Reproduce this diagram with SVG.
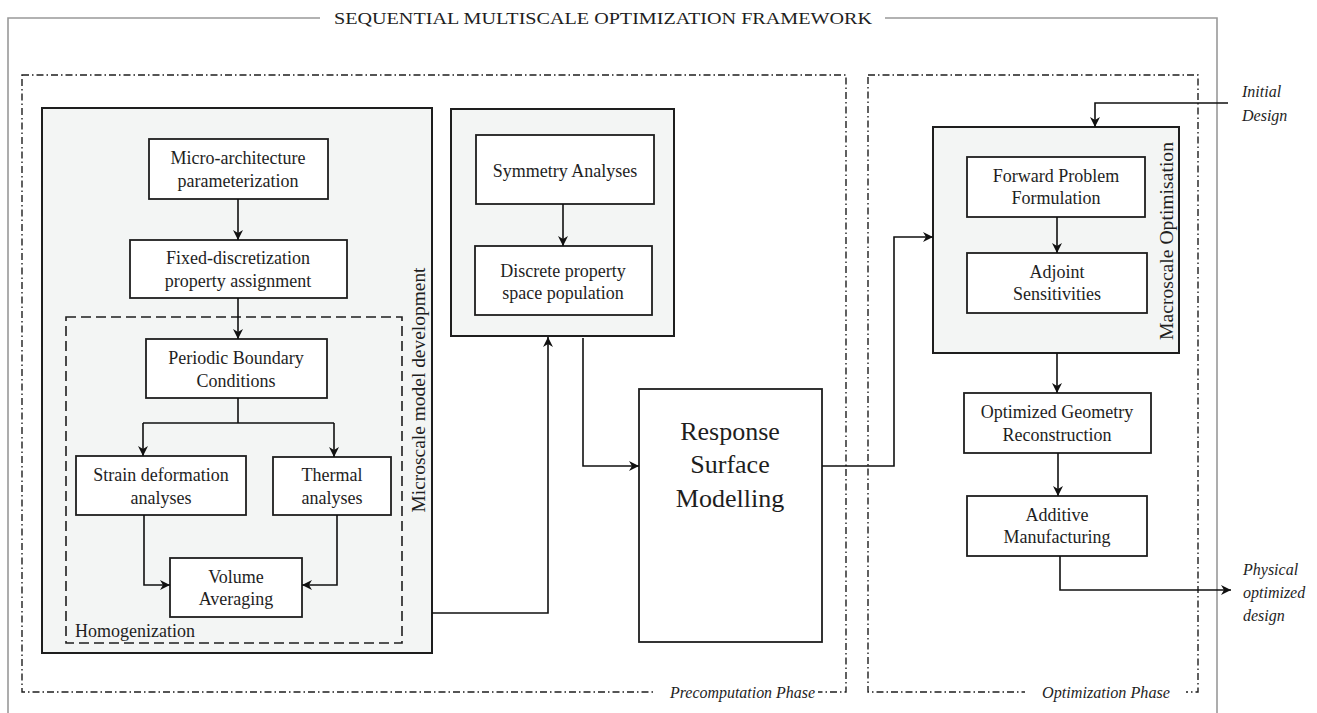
<svg xmlns="http://www.w3.org/2000/svg" width="1317" height="713" viewBox="0 0 1317 713">
<style>
text{font-family:"Liberation Serif","Times New Roman",serif;fill:#1e1e1e}
.t{font-size:18px;text-anchor:middle}
.it{font-style:italic;font-size:16px}
.box{fill:#fff;stroke:#1e1e1e;stroke-width:1.8}
.grp{fill:#f3f5f4;stroke:#1e1e1e;stroke-width:2}
.phase{fill:none;stroke:#1e1e1e;stroke-width:1.4;stroke-dasharray:7 3 1.5 3}
.frame{fill:none;stroke:#999;stroke-width:1.6}
.edge{fill:none;stroke:#111;stroke-width:1.6}
</style>
<defs>
<marker id="ah" viewBox="0 0 10 10" refX="10" refY="5" markerWidth="10" markerHeight="10" markerUnits="userSpaceOnUse" orient="auto">
<path d="M0,0 L10,5 L0,10 L3,5 z" fill="#111"/>
</marker>
</defs>
<rect width="1317" height="713" fill="#fff"/>

<g id="frame">
<path class="frame" d="M320 18 H8 V713 M885 18 H1217 V713"/>
<text x="603" y="24" style="font-size:17px;text-anchor:middle" textLength="538" lengthAdjust="spacingAndGlyphs">SEQUENTIAL MULTISCALE OPTIMIZATION FRAMEWORK</text>
</g>

<g id="precomputation-phase">
<rect class="phase" x="22" y="75" width="824" height="617"/>
<rect x="656" y="682" width="162" height="20" fill="#fff"/>
<text class="it" x="670" y="698" textLength="145" lengthAdjust="spacingAndGlyphs">Precomputation Phase</text>
</g>

<g id="optimization-phase">
<rect class="phase" x="868" y="75" width="330" height="617"/>
<rect x="1025" y="682" width="161" height="20" fill="#fff"/>
<text class="it" x="1042" y="698" textLength="128" lengthAdjust="spacingAndGlyphs">Optimization Phase</text>
</g>

<g id="microscale">
<rect class="grp" x="42" y="108" width="390" height="545"/>
<text x="0" y="0" transform="translate(425,390) rotate(-90)" class="t" textLength="245" lengthAdjust="spacingAndGlyphs">Microscale model development</text>
</g>

<g id="homogenization">
<rect x="66" y="317" width="336" height="326" fill="none" stroke="#1e1e1e" stroke-width="1.6" stroke-dasharray="10 5"/>
<text x="75" y="637" style="font-size:18px">Homogenization</text>
</g>

<g id="micro-architecture">
<rect class="box" x="149" y="139" width="179" height="60"/>
<text class="t" x="238" y="164">Micro-architecture</text>
<text class="t" x="238" y="187">parameterization</text>
</g>

<g id="fixed-discretization">
<rect class="box" x="130" y="240" width="217" height="58"/>
<text class="t" x="238" y="264">Fixed-discretization</text>
<text class="t" x="238" y="287">property assignment</text>
</g>

<g id="periodic-bc">
<rect class="box" x="146" y="339" width="181" height="59"/>
<text class="t" x="236" y="364">Periodic Boundary</text>
<text class="t" x="236" y="387">Conditions</text>
</g>

<g id="strain">
<rect class="box" x="76" y="456" width="170" height="59"/>
<text class="t" x="161" y="481">Strain deformation</text>
<text class="t" x="161" y="504">analyses</text>
</g>

<g id="thermal">
<rect class="box" x="273" y="457" width="118" height="58"/>
<text class="t" x="332" y="481">Thermal</text>
<text class="t" x="332" y="504">analyses</text>
</g>

<g id="volume-averaging">
<rect class="box" x="170" y="558" width="132" height="59"/>
<text class="t" x="236" y="583">Volume</text>
<text class="t" x="236" y="605">Averaging</text>
</g>

<g id="symmetry-group">
<rect class="grp" x="451" y="109" width="223" height="227"/>
</g>

<g id="symmetry">
<rect class="box" x="476" y="135" width="178" height="69"/>
<text class="t" x="565" y="177">Symmetry Analyses</text>
</g>

<g id="discrete-property">
<rect class="box" x="475" y="246" width="177" height="69"/>
<text class="t" x="563" y="277">Discrete property</text>
<text class="t" x="563" y="299">space population</text>
</g>

<g id="response-surface">
<rect class="box" x="639" y="389" width="183" height="253"/>
<text class="t" x="730" y="440" style="font-size:26px">Response</text>
<text class="t" x="730" y="473" style="font-size:26px">Surface</text>
<text class="t" x="730" y="507" style="font-size:26px">Modelling</text>
</g>

<g id="macroscale">
<rect class="grp" x="933" y="127" width="246" height="226"/>
<text x="0" y="0" transform="translate(1173,241) rotate(-90)" class="t" textLength="198" lengthAdjust="spacingAndGlyphs">Macroscale Optimisation</text>
</g>

<g id="forward-problem">
<rect class="box" x="967" y="157" width="178" height="60"/>
<text class="t" x="1056" y="182">Forward Problem</text>
<text class="t" x="1056" y="204">Formulation</text>
</g>

<g id="adjoint">
<rect class="box" x="967" y="253" width="180" height="60"/>
<text class="t" x="1057" y="278">Adjoint</text>
<text class="t" x="1057" y="300">Sensitivities</text>
</g>

<g id="optimized-geometry">
<rect class="box" x="964" y="393" width="187" height="60"/>
<text class="t" x="1057" y="418">Optimized Geometry</text>
<text class="t" x="1057" y="441">Reconstruction</text>
</g>

<g id="additive">
<rect class="box" x="967" y="496" width="180" height="60"/>
<text class="t" x="1057" y="521">Additive</text>
<text class="t" x="1057" y="543">Manufacturing</text>
</g>

<g id="initial-design">
<text class="it" x="1242" y="97">Initial</text>
<text class="it" x="1242" y="121">Design</text>
</g>

<g id="physical-design">
<text class="it" x="1243" y="575">Physical</text>
<text class="it" x="1243" y="598">optimized</text>
<text class="it" x="1243" y="621">design</text>
</g>

<g id="connectors">
<path class="edge" marker-end="url(#ah)" d="M238 199 V240"/>
<path class="edge" marker-end="url(#ah)" d="M238 298 V339"/>
<path class="edge" d="M238 398 V423 M143 423 H334"/>
<path class="edge" marker-end="url(#ah)" d="M143 423 V456"/>
<path class="edge" marker-end="url(#ah)" d="M334 423 V457"/>
<path class="edge" marker-end="url(#ah)" d="M144 515 V585 H170"/>
<path class="edge" marker-end="url(#ah)" d="M337 515 V585 H302"/>
<path class="edge" marker-end="url(#ah)" d="M563 204 V246"/>
<path class="edge" marker-end="url(#ah)" d="M432 613 H548 V337"/>
<path class="edge" marker-end="url(#ah)" d="M583 338 V466 H639"/>
<path class="edge" marker-end="url(#ah)" d="M822 466 H894 V237 H933"/>
<path class="edge" marker-end="url(#ah)" d="M1228 103 H1095 V127"/>
<path class="edge" marker-end="url(#ah)" d="M1057 217 V253"/>
<path class="edge" marker-end="url(#ah)" d="M1057 353 V393"/>
<path class="edge" marker-end="url(#ah)" d="M1058 453 V496"/>
<path class="edge" marker-end="url(#ah)" d="M1060 556 V590 H1231"/>
</g>
</svg>
